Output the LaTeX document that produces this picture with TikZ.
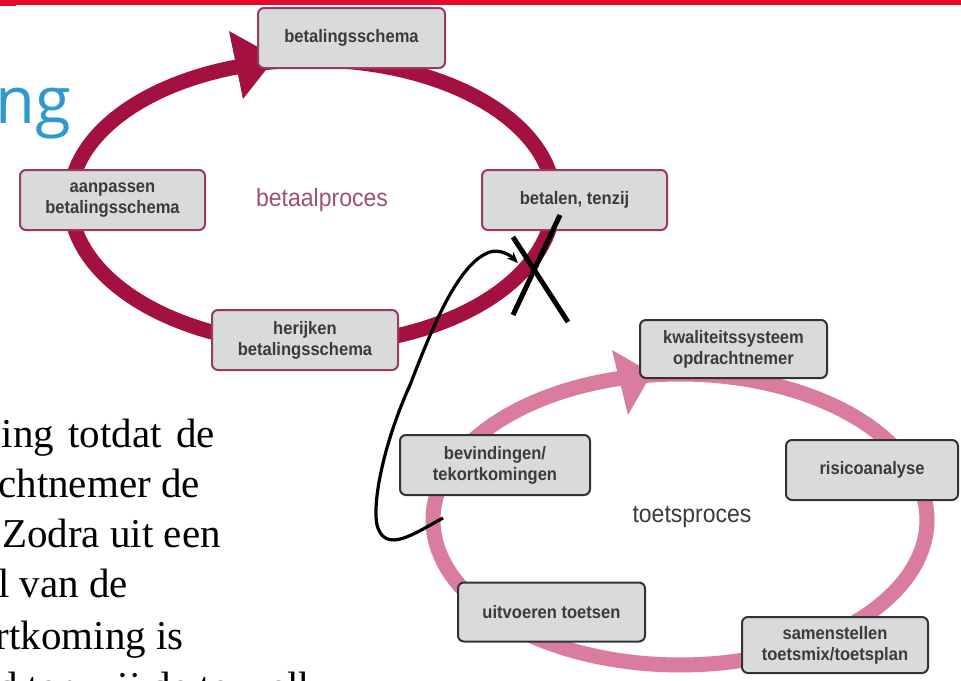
\documentclass[tikz,border=0pt]{standalone}
\usepackage{fontspec}
\setmainfont{Liberation Serif}
\newfontfamily\boxfont[FakeStretch=0.92]{Liberation Sans}
\newfontfamily\ngfont{Open Sans}
\usetikzlibrary{arrows.meta}
\definecolor{redbar}{HTML}{E30B2C}
\definecolor{ngblue}{HTML}{2E98CF}
\definecolor{maroonring}{HTML}{A3123F}
\definecolor{pinkring}{HTML}{D97CA0}
\definecolor{boxfill}{HTML}{D9DADC}
\definecolor{topborder}{HTML}{9C3A5C}
\definecolor{botborder}{HTML}{333333}
\definecolor{boxtext}{HTML}{3B3B3B}
\definecolor{labelrose}{HTML}{A0506E}
\tikzset{
  pbox/.style={rectangle, rounded corners=6pt, fill=boxfill, line width=2pt,
    inner sep=0pt, align=center, text=boxtext,
    font=\boxfont\bfseries\fontsize{18}{21}\selectfont},
  topbox/.style={pbox, draw=topborder},
  botbox/.style={pbox, draw=botborder},
  cyclelabel/.style={font=\boxfont\fontsize{25}{28}\selectfont},
  bodyline/.style={anchor=base east, font=\fontsize{41}{50}\selectfont, inner sep=0pt},
  ringline/.style={line width=15pt},
  feedback/.style={line width=3.2pt, black, -{Stealth[length=11pt,width=9pt]}},
  cross/.style={line width=5pt, black},
}
\begin{document}
\begin{tikzpicture}[x=1pt,y=-1pt]
\useasboundingbox (0,0) rectangle (961,680);
\clip (0,0) rectangle (961,680);
\fill[white] (0,0) rectangle (961,680);
% top red bar
\fill[redbar] (0,0) rectangle (961,4.5);
\fill[redbar] (0,0) rectangle (16,5.5);
% title fragment
\node[anchor=base west, inner sep=0pt, text=ngblue, font=\ngfont\fontsize{65}{70}\selectfont] (title) at (-5,123) {ng};
% body text fragments (justified lines)
\node[bodyline] (l1) at (215,447) {\makebox[213pt][s]{ing totdat de}};
\node[bodyline] (l2) at (200,497) {chtnemer de};
\node[bodyline] (l3) at (221,547) {Zodra uit een};
\node[bodyline] (l4) at (128,597) {l van de};
\node[bodyline] (l5) at (184,649) {rtkoming is};
\node[anchor=base west, inner sep=0pt, font=\fontsize{41}{50}\selectfont] (l6) at (-3,700) {d ten wij de te welk};
% maroon ring (betaalproces)
\draw[ringline, maroonring]
  plot[domain=0:180, samples=73] ({312+242*cos(\x)},{200-140*sin(\x)})
  -- plot[domain=180:360, samples=73] ({312+242*cos(\x)},{200-145*sin(\x)}) -- cycle;
\fill[maroonring] (229,31) -- (276,57) -- (243,99) -- cycle;
% pink ring (toetsproces)
\draw[ringline, pinkring]
  plot[domain=0:180, samples=73] ({680+247*cos(\x)},{520-146*sin(\x)})
  -- plot[domain=180:360, samples=73] ({680+247*cos(\x)},{520-145*sin(\x)}) -- cycle;
\fill[pinkring] (612,350) -- (652,373) -- (628,415) -- cycle;
% boxes of the betaalproces
\node[topbox, minimum width=187pt, minimum height=60pt] (bs) at (351.5,38) {betalingsschema};
\node[topbox, minimum width=185pt, minimum height=60pt] (ap) at (112.5,200) {aanpassen\\betalingsschema};
\node[topbox, minimum width=185pt, minimum height=60pt] (bt) at (574.5,200) {betalen, tenzij};
\node[topbox, minimum width=186pt, minimum height=60pt] (hj) at (305,340) {herijken\\betalingsschema};
\node[cyclelabel, text=labelrose] (bp) at (322,200) {betaalproces};
% boxes of the toetsproces
\node[botbox, minimum width=187pt, minimum height=58pt] (kw) at (733.5,349) {kwaliteitssysteem\\opdrachtnemer};
\node[botbox, minimum width=172pt, minimum height=60pt] (ri) at (872,470) {risicoanalyse};
\node[botbox, minimum width=186pt, minimum height=56pt] (sa) at (835,645) {samenstellen\\toetsmix/toetsplan};
\node[botbox, minimum width=187pt, minimum height=59pt] (ui) at (551.5,612) {uitvoeren toetsen};
\node[botbox, minimum width=190pt, minimum height=60pt] (bv) at (495,465) {bevindingen/\\tekortkomingen};
\node[cyclelabel, text=boxtext] (tp) at (692,517) {toetsproces};
% feedback curve
\coordinate (fs) at (443,518);
\coordinate (fe) at (518,263);
\draw[feedback] (fs) .. controls (415,533) and (385,555) .. (377,525)
  .. controls (372,500) and (385,440) .. (410,385)
  .. controls (435,320) and (460,262) .. (490,252)
  .. controls (500,249) and (510,255) .. (fe);
% cross
\coordinate (x1a) at (560,215); \coordinate (x1b) at (513,315);
\coordinate (x2a) at (513,237); \coordinate (x2b) at (568,322);
\draw[cross] (x1a) -- (x1b);
\draw[cross] (x2a) -- (x2b);
\end{tikzpicture}
\end{document}
